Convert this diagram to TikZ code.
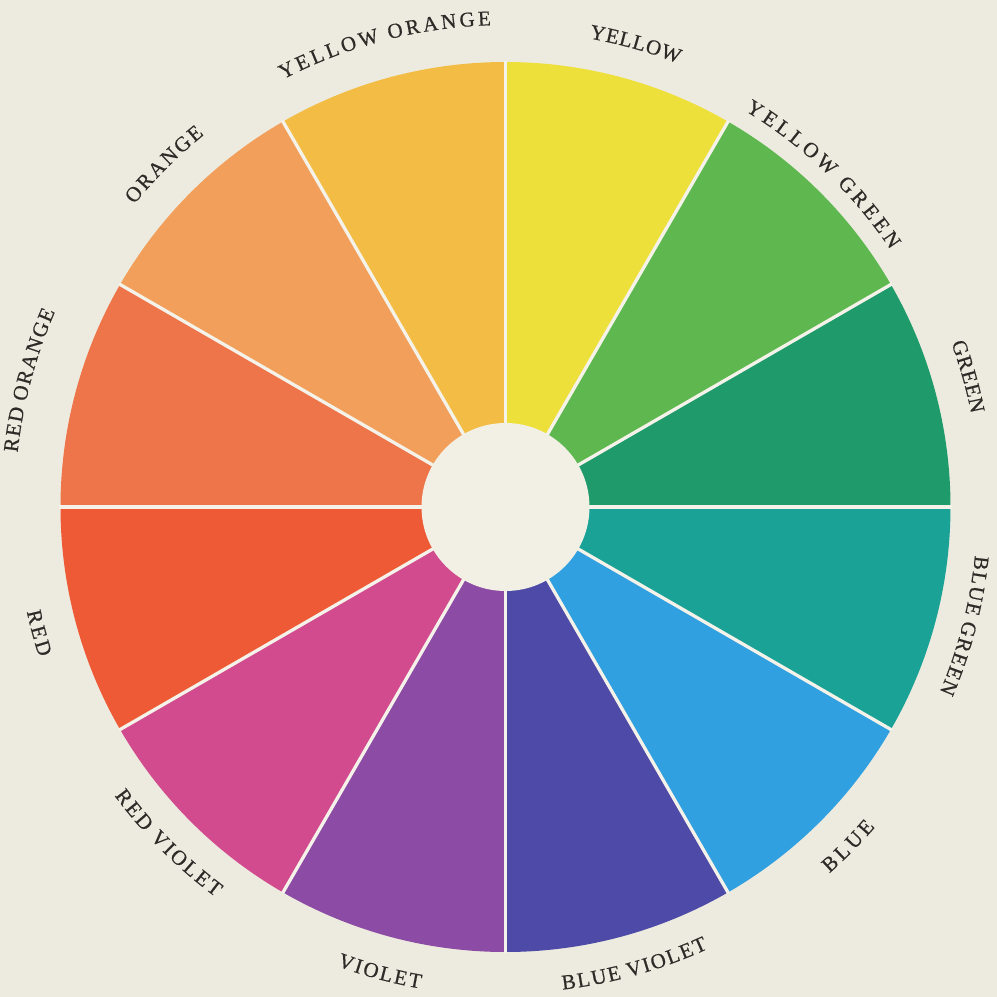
\documentclass[tikz,border=0pt]{standalone}
\usepackage{fontspec}
\setmainfont{Liberation Serif}
\newfontfamily\lblfont[FakeBold=0.6]{Liberation Serif}
\definecolor{bg}{HTML}{EDEBDF}
\definecolor{hub}{HTML}{F2F0E5}
\definecolor{sepc}{HTML}{F5F2EA}
\definecolor{ink}{HTML}{2E2A27}
\definecolor{cY}{HTML}{EDE03A}
\definecolor{cYO}{HTML}{F3BD45}
\definecolor{cO}{HTML}{F29F5B}
\definecolor{cRO}{HTML}{EE7449}
\definecolor{cR}{HTML}{EE5A35}
\definecolor{cRV}{HTML}{D24B8E}
\definecolor{cV}{HTML}{8C4BA5}
\definecolor{cBV}{HTML}{4E4BA8}
\definecolor{cB}{HTML}{31A0E0}
\definecolor{cBG}{HTML}{1AA297}
\definecolor{cG}{HTML}{1F9B6B}
\definecolor{cYG}{HTML}{5EB84F}
\newcommand\lbl{\lblfont\fontsize{21pt}{24pt}\selectfont}
\newbox\chbox
\def\usc{_}
\tikzset{
  sepline/.style={draw=sepc, line width=3.3pt},
  lettr/.style={anchor=base, inner sep=0pt, outer sep=0pt, text=ink, font=\lbl}
}
\makeatletter
\newcommand\storewidth[1]{%
  \setbox\chbox\hbox{\lbl #1}%
  \expandafter\xdef\csname lw@#1\endcsname{\strip@pt\wd\chbox}}
% #1 id, #2 mid angle, #3 baseline radius (pt), #4 dir (1 = clockwise, tops out; -1 = counter-clockwise, tops in), #5 tracking (pt), #6 characters
\newcommand\arclabel[6]{%
  \gdef\lbtot{0}%
  \foreach \ch in {#6}{%
    \ifx\ch\usc\def\cw{3.5}\else\edef\cw{\csname lw@\ch\endcsname}\fi
    \pgfmathsetmacro\tmp{\lbtot+\cw+#5}%
    \xdef\lbtot{\tmp}%
  }%
  \pgfmathsetmacro\lbtotal{\lbtot-#5}%
  \global\let\lbtotal\lbtotal
  \gdef\lbpos{0}%
  \foreach \ch [count=\i] in {#6}{%
    \ifx\ch\usc\def\cw{3.5}\else\edef\cw{\csname lw@\ch\endcsname}\fi
    \pgfmathsetmacro\ang{#2+(#4)*(\lbtotal/2-\lbpos-\cw/2)/#3*57.29578}%
    \pgfmathsetmacro\rot{\ang-90*(#4)}%
    \ifx\ch\usc\else
      \node[lettr, rotate=\rot] (#1\i) at (\ang:#3pt) {\ch};
    \fi
    \pgfmathsetmacro\tmp{\lbpos+\cw+#5}%
    \xdef\lbpos{\tmp}%
  }%
}
\makeatother
\begin{document}
\storewidth{A}\storewidth{B}\storewidth{D}\storewidth{E}\storewidth{G}%
\storewidth{I}\storewidth{L}\storewidth{N}\storewidth{O}\storewidth{R}%
\storewidth{T}\storewidth{U}\storewidth{V}\storewidth{W}\storewidth{Y}%
\begin{tikzpicture}
\useasboundingbox (-505.5pt,-490pt) rectangle (491.5pt,507pt);
\fill[bg] (-505.5pt,-490pt) rectangle (491.5pt,507pt);
\foreach \a/\c in {60/cY, 30/cYG, 0/cG, -30/cBG, -60/cB, -90/cBV, -120/cV, -150/cRV, -180/cR, -210/cRO, -240/cO, -270/cYO}
  \fill[\c] (0,0) -- (\a:445pt) arc[start angle=\a, end angle=\a+30, radius=445pt] -- cycle;
\foreach \a in {0,30,...,330}
  \draw[sepline] (\a:80pt) -- (\a:446pt);
\fill[hub] (0,0) circle[radius=84pt];
\arclabel{yo}{104.6}{482}{1}{3.1}{Y,E,L,L,O,W,_,O,R,A,N,G,E}
\arclabel{y}{74.3}{476}{1}{0.8}{Y,E,L,L,O,W}
\arclabel{yg}{46.3}{463}{1}{3.7}{Y,E,L,L,O,W,_,G,R,E,E,N}
\arclabel{g}{15.75}{475}{1}{0.9}{G,R,E,E,N}
\arclabel{bg}{-14.5}{472}{1}{1.5}{B,L,U,E,_,G,R,E,E,N}
\arclabel{b}{-44.7}{489}{-1}{3.4}{B,L,U,E}
\arclabel{bv}{-74.3}{486}{-1}{1.75}{B,L,U,E,_,V,I,O,L,E,T}
\arclabel{v}{-105.1}{489}{-1}{2.1}{V,I,O,L,E,T}
\arclabel{rv}{-135.1}{486}{-1}{2.5}{R,E,D,_,V,I,O,L,E,T}
\arclabel{r}{-164.9}{490}{-1}{2.6}{R,E,D}
\arclabel{ro}{165.1}{491}{1}{1.5}{R,E,D,_,O,R,A,N,G,E}
\arclabel{o}{134.9}{479}{1}{2.3}{O,R,A,N,G,E}
\end{tikzpicture}
\end{document}
